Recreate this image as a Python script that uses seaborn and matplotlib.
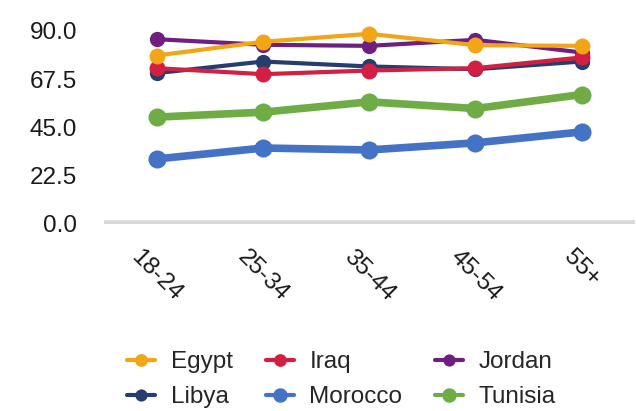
import pandas as pd
import matplotlib
matplotlib.use("Agg")
import matplotlib.pyplot as plt
import seaborn as sns

ages = ["18-24", "25-34", "35-44", "45-54", "55+"]
egypt   = [78.5, 84.9, 88.6, 83.3, 83.0]
iraq    = [72.6, 69.8, 71.5, 72.6, 77.6]
jordan  = [86.1, 83.5, 83.0, 85.8, 79.9]
libya   = [70.3, 75.7, 73.4, 72.1, 75.7]
morocco = [30.3, 35.4, 34.5, 37.8, 42.9]
tunisia = [49.8, 52.1, 56.9, 53.8, 60.3]

series = {"Egypt": egypt, "Iraq": iraq, "Jordan": jordan,
          "Libya": libya, "Morocco": morocco, "Tunisia": tunisia}
colors = {"Egypt": "#F2A516", "Iraq": "#D41F44", "Jordan": "#6E1F80",
          "Libya": "#243F6E", "Morocco": "#4472C4", "Tunisia": "#6FAC46"}
widths = {"Egypt": 3.0, "Iraq": 3.0, "Jordan": 3.0,
          "Libya": 3.0, "Morocco": 5.5, "Tunisia": 5.5}
msize = {"Egypt": 11.5, "Iraq": 11.5, "Jordan": 11, "Libya": 11,
         "Morocco": 13, "Tunisia": 13}

df = pd.DataFrame([(c, a, v) for c, vals in series.items() for a, v in zip(ages, vals)],
                  columns=["country", "age", "value"])

sns.set_style("white")
plt.rcParams["font.family"] = ["Liberation Sans", "DejaVu Sans"]
FS = 17.5

fig = plt.figure(figsize=(6.36, 4.11), dpi=100)
ax = fig.add_axes([0.163, 0.455, 0.835, 0.47])

ax.axhline(0, color="#d9d9d9", lw=5.5, zorder=0)

draw_order = ["Morocco", "Tunisia", "Libya", "Jordan", "Iraq", "Egypt"]
for i, c in enumerate(draw_order):
    sub = df[df.country == c]
    sns.lineplot(data=sub, x="age", y="value", color=colors[c], lw=widths[c],
                 marker="o", markersize=msize[c], markeredgewidth=0,
                 ax=ax, zorder=2 + i, clip_on=False, label=c, legend=False)

ax.set_ylim(0, 90)
ax.set_xlim(-0.5, 4.5)
ax.set_yticks([0, 22.5, 45, 67.5, 90])
ax.set_yticklabels(["0.0", "22.5", "45.0", "67.5", "90.0"])
ax.set_xlabel("")
ax.set_ylabel("")
sns.despine(ax=ax, left=True, bottom=True)
ax.tick_params(axis="y", labelsize=FS, colors="#1a1a1a", pad=19, length=0)
ax.tick_params(axis="x", labelsize=FS, colors="#1a1a1a", pad=16, length=0)
for lab in ax.get_xticklabels():
    lab.set_rotation(-45)
    lab.set_ha("center")
    lab.set_va("top")

handles, labels = ax.get_legend_handles_labels()
hmap = dict(zip(labels, handles))
leg_order = ["Egypt", "Libya", "Iraq", "Morocco", "Jordan", "Tunisia"]
leg = fig.legend([hmap[k] for k in leg_order], leg_order, ncol=3, frameon=False,
                 loc="lower center", bbox_to_anchor=(0.537, -0.047), fontsize=FS,
                 handlelength=1.15, columnspacing=1.35, labelspacing=0.55, handletextpad=0.65,
                 markerscale=0.8)
for h in leg.legend_handles:
    h.set_linewidth(3)

fig.savefig("out.png", dpi=100)
